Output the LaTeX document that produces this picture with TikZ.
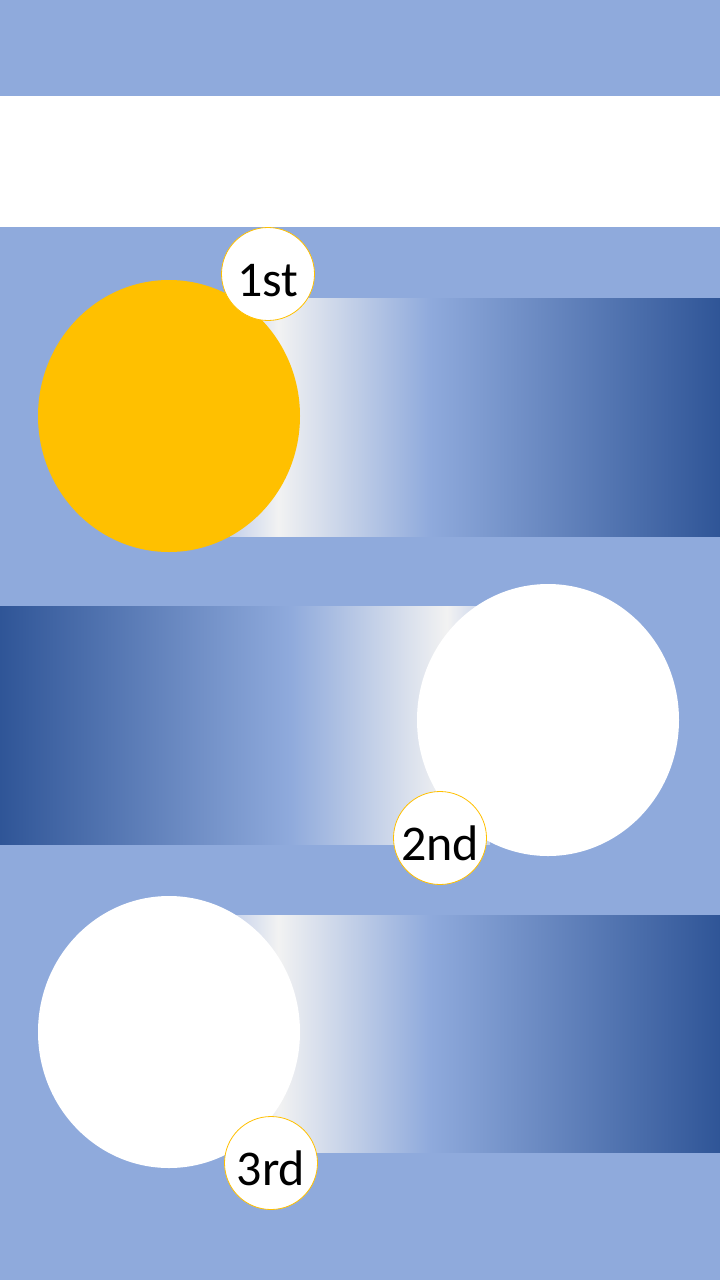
\documentclass[tikz,border=0pt]{standalone}
\usepackage{fontspec}
\setmainfont{Carlito}
\usetikzlibrary{shapes.geometric}
\definecolor{sky}{HTML}{8FAADC}
\definecolor{deep}{HTML}{2F5597}
\definecolor{pale}{HTML}{F2F2F2}
\definecolor{gold}{HTML}{FFC000}
\definecolor{haze}{HTML}{C3D0EB}
% light end on the left, dark end on the right
\pgfdeclarehorizontalshading{fadeR}{100bp}{color(0bp)=(haze); color(25bp)=(haze);
  color(29.9bp)=(pale); color(45.4bp)=(sky); color(75bp)=(deep); color(100bp)=(deep)}
% mirrored
\pgfdeclarehorizontalshading{fadeL}{100bp}{color(0bp)=(deep); color(25bp)=(deep);
  color(54.6bp)=(sky); color(70.6bp)=(pale); color(75bp)=(haze); color(100bp)=(haze)}
\tikzset{
  disc/.style={ellipse,inner sep=0pt,minimum width=262pt,minimum height=272pt},
  badge/.style={circle,fill=white,draw=gold,line width=0.8pt,inner sep=0pt,
    minimum size=93pt,text height=44pt,text depth=0pt,
    font=\fontsize{50}{54}\selectfont}
}
\begin{document}
\begin{tikzpicture}[x=1pt,y=-1pt]
  \fill[sky] (0,0) rectangle (720,1280);
  \useasboundingbox (0,0) rectangle (720,1280);
  \fill[white] (0,96) rectangle (720,227);
  % bands
  \shade[shading=fadeR] (230,298) rectangle (720,536);
  \shade[shading=fadeL] (0,606) rectangle (490,844);
  \shade[shading=fadeR] (230,915) rectangle (720,1152);
  % discs
  \node[disc,fill=gold] (sun) at (169,416) {};
  \node[disc,fill=white] (moon2) at (548,720) {};
  \node[disc,fill=white] (moon3) at (169,1032) {};
  % badges
  \node[badge] (first) at (268,274) {1st};
  \node[badge] (second) at (440,838) {2nd};
  \node[badge] (third) at (271,1163) {3rd};
\end{tikzpicture}
\end{document}
